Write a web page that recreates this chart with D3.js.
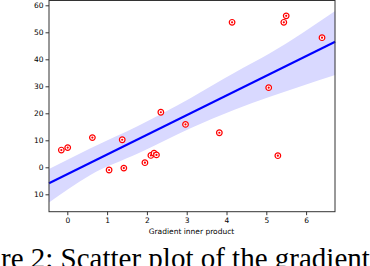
<!DOCTYPE html>
<html>
<head>
<meta charset="utf-8">
<script src="https://cdn.jsdelivr.net/npm/d3@7"></script>
<style>
body { margin: 0; background: #fff; }
svg { display: block; }
</style>
</head>
<body>
<div id="chart"></div>
<script>
var width = 370;
var height = 266;

// scatter points (gradient inner product vs value)
var ptX = [-0.15, 0.01, 0.63, 1.05, 1.38, 1.42, 1.95, 2.10, 2.18, 2.24, 2.35, 2.97, 3.82, 4.14, 5.06, 5.29, 5.44, 5.50, 6.40];
var ptY = [6.4, 7.3, 11.0, -1.0, 10.2, -0.3, 1.7, 4.4, 5.2, 4.6, 20.4, 15.9, 12.8, 53.7, 29.5, 4.3, 53.7, 56.1, 48.0];

// regression line and its confidence band
var fitX = [-0.46, 6.73];
var fitY = [-5.9, 46.5];
var bandX = [-0.46, 0.57, 1.8, 3.08, 4.2, 5.09, 6.73];
var bandLo = [-13.0, -2.9, 5.3, 14.4, 21.3, 26.1, 34.2];
var bandHi = [-0.6, 7.0, 15.5, 25.5, 35.0, 42.2, 57.9];

var xTicks = [0, 1, 2, 3, 4, 5, 6];
var yTicks = [-10, 0, 10, 20, 30, 40, 50, 60];
var xLabel = "Gradient inner product";
var caption = "Figure 2: Scatter plot of the gradient inner product";

var svg = d3.select("#chart").append("svg")
    .attr("width", width)
    .attr("height", height);

var x = d3.scaleLinear().domain([-0.46, 6.726]).range([49, 335]);
var y = d3.scaleLinear().domain([-16.44, 61.78]).range([211.7, 0.5]);

// band
var band = bandX.map(function(d, i) { return {x: d, lo: bandLo[i], hi: bandHi[i]}; });
svg.append("path")
    .datum(band)
    .attr("fill", "#d9d9ff")
    .attr("d", d3.area()
        .x(function(d) { return x(d.x); })
        .y0(function(d) { return y(d.lo); })
        .y1(function(d) { return y(d.hi); })
        .curve(d3.curveMonotoneX));

// fit line
svg.append("path")
    .datum(fitX.map(function(d, i) { return [d, fitY[i]]; }))
    .attr("fill", "none")
    .attr("stroke", "#0000ff")
    .attr("stroke-width", 2)
    .attr("d", d3.line()
        .x(function(d) { return x(d[0]); })
        .y(function(d) { return y(d[1]); }));

// points
var pts = ptX.map(function(d, i) { return {x: d, y: ptY[i]}; });
var g = svg.selectAll("g.pt").data(pts).enter().append("g")
    .attr("class", "pt")
    .attr("transform", function(d) { return "translate(" + x(d.x) + "," + y(d.y) + ")"; });
g.append("circle")
    .attr("r", 2.8)
    .attr("fill", "#fff")
    .attr("stroke", "#ff0000")
    .attr("stroke-width", 1.2);
g.append("circle")
    .attr("r", 1.1)
    .attr("fill", "#ff0000");

// axes
var xAxis = svg.append("g")
    .attr("transform", "translate(0,211.7)")
    .call(d3.axisBottom(x).tickValues(xTicks).tickSize(3.5).tickPadding(2)
        .tickFormat(function(d) { return d; }));
var yAxis = svg.append("g")
    .attr("transform", "translate(49,0)")
    .call(d3.axisLeft(y).tickValues(yTicks).tickSize(3.5).tickPadding(2)
        .tickFormat(function(d) { return Math.abs(d); }));
[xAxis, yAxis].forEach(function(a) {
    a.select(".domain").remove();
    a.selectAll("text").attr("font-family", "DejaVu Sans").attr("font-size", 7.5).attr("fill", "#000");
    a.selectAll("line").attr("stroke", "#000").attr("stroke-width", 0.8);
});

// frame
svg.append("rect")
    .attr("x", 49).attr("y", 0.5)
    .attr("width", 286).attr("height", 211.2)
    .attr("fill", "none")
    .attr("stroke", "#333")
    .attr("stroke-width", 1);

svg.append("text")
    .attr("x", x(3.12)).attr("y", 233.5)
    .attr("text-anchor", "middle")
    .attr("font-family", "DejaVu Sans")
    .attr("font-size", 7.5)
    .text(xLabel);

// caption, cut off on the left and bottom like the source
var cap = svg.append("text")
    .attr("y", 268)
    .attr("font-family", "Liberation Serif")
    .attr("font-size", 29)
    .text(caption);
var off = cap.node().getSubStringLength(0, 4);
cap.attr("x", 1 - off);
</script>
</body>
</html>
